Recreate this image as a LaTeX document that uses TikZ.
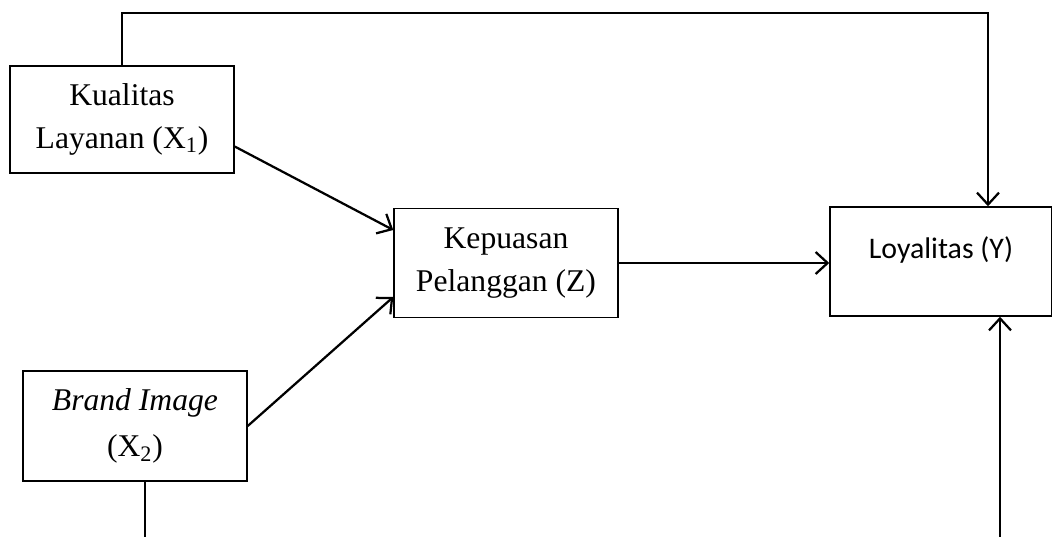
\documentclass[tikz,border=0pt]{standalone}
\usepackage{fontspec}
\setmainfont{Liberation Serif}
\newfontfamily\sansfont{Carlito}
\usetikzlibrary{arrows.meta,calc}

\begin{document}
\begin{tikzpicture}[x=0.02cm,y=-0.02cm,
    boite/.style={draw=moncouleur, line width=0.03cm, minimum width=4.48cm,
      minimum height=2.18cm, align=center, inner sep=0pt,
      font=\fontsize{18}{24}\selectfont},
    fleche/.style={moncouleur, line width=0.045cm,
      -{Straight Barb[length=0.24cm,width=0.44cm]}},
    trait/.style={moncouleur, line width=0.045cm}]
  % Définir une couleur pour le schéma
  \definecolor{moncouleur}{RGB}{0,0,0}
  \useasboundingbox (0,0) rectangle (1052,537);

  % Les quatre boites
  \node[boite, minimum height=2.14cm] at (122,119.5) (qual) {Kualitas\\Layanan (X\textsubscript{1})};
  \node[boite] at (506,263) (kep) {Kepuasan\\Pelanggan (Z)};
  \node[boite, minimum width=4.44cm, text depth=0.55cm,
    font=\sansfont\fontsize{17}{24}\selectfont] at (941,261.5) (loy) {Loyalitas (Y)};
  \node[boite, minimum height=2.2cm] at (135,426) (brand) {\textit{Brand Image}\\[2pt](X\textsubscript{2})};

  % Points libres
  \coordinate (haut) at (988,13);
  \coordinate (basG) at (145,537);
  \coordinate (basD) at (1000,537);

  % Ligne du haut vers la loyalite
  \draw[fleche] (qual.north) |- (haut) -- (haut |- loy.north);

  % Fleches vers la satisfaction
  \draw[fleche] ($(qual.east)+(0,27)$) -- ($(kep.west)+(0,-33)$);
  \draw[fleche] (brand.east) -- ($(kep.west)+(0,34)$);
  \draw[fleche] (kep.east) -- (kep.east -| loy.west);

  % Lignes du bas
  \draw[trait] (basG |- brand.south) -- (basG);
  \draw[fleche] (basD) -- (basD |- loy.south);
\end{tikzpicture}
\end{document}
